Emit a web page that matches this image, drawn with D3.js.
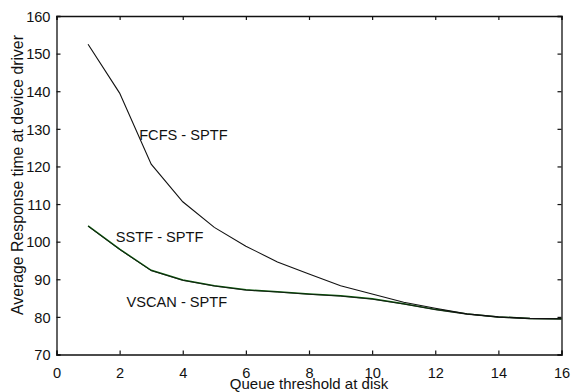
<!DOCTYPE html>
<html>
<head>
<meta charset="utf-8">
<script src="https://cdn.jsdelivr.net/npm/d3@7"></script>
<style>
  html, body { margin: 0; padding: 0; background: #fff; }
  svg { display: block; }
  text { font-family: "Liberation Sans", Arial, Helvetica, sans-serif; fill: #111; }
</style>
</head>
<body>
<div id="chart"></div>
<script>
// Queue threshold at disk (x) and average response time per scheduler pair
const thresholds = [1, 2, 3, 4, 5, 6, 7, 8, 9, 10, 11, 12, 13, 14, 15, 16];
const fcfsSptf  = [152.5, 139.5, 120.6, 110.6, 103.8, 98.8, 94.6, 91.4, 88.3, 86.1, 83.9, 82.3, 80.8, 80.0, 79.6, 79.5];
const sstfSptf  = [104.2, 98.0, 92.4, 89.8, 88.3, 87.2, 86.7, 86.1, 85.6, 84.8, 83.5, 82.0, 80.8, 80.0, 79.6, 79.5];
const vscanSptf = [104.1, 97.9, 92.3, 89.7, 88.2, 87.1, 86.6, 86.0, 85.5, 84.7, 83.4, 81.9, 80.7, 79.9, 79.5, 79.4];

const xTicks = [0, 2, 4, 6, 8, 10, 12, 14, 16];
const yTicks = [70, 80, 90, 100, 110, 120, 130, 140, 150, 160];

const seriesLabels = [
  { text: "FCFS - SPTF",  x: 2.62, y: 127.0 },
  { text: "SSTF - SPTF",  x: 1.88, y: 100.0 },
  { text: "VSCAN - SPTF", x: 2.22, y: 82.7 }
];

const W = 574, H = 392;
const margin = { top: 16, right: 12.5, bottom: 37.5, left: 56.5 };
const iw = W - margin.left - margin.right;
const ih = H - margin.top - margin.bottom;

const svg = d3.select("#chart").append("svg").attr("width", W).attr("height", H);
const g = svg.append("g").attr("transform", `translate(${margin.left},${margin.top})`);

const x = d3.scaleLinear().domain([0, 16]).range([0, iw]);
const y = d3.scaleLinear().domain([70, 160]).range([ih, 0]);

const fs = "14.6px";

// Axes with inward ticks on all four sides
const axB = g.append("g").attr("transform", `translate(0,${ih})`)
  .call(d3.axisBottom(x).tickValues(xTicks).tickSize(-4).tickPadding(13).tickFormat(d3.format("d")));
const axT = g.append("g")
  .call(d3.axisTop(x).tickValues(xTicks).tickSize(-4).tickFormat(""));
const axL = g.append("g")
  .call(d3.axisLeft(y).tickValues(yTicks).tickSize(-4).tickPadding(6).tickFormat(d3.format("d")));
const axR = g.append("g").attr("transform", `translate(${iw},0)`)
  .call(d3.axisRight(y).tickValues(yTicks).tickSize(-4).tickFormat(""));

[axB, axT, axL, axR].forEach(a => {
  a.select(".domain").attr("stroke", "#111").attr("stroke-width", 1.3);
  a.selectAll(".tick line").attr("stroke", "#111").attr("stroke-width", 1.2);
  a.selectAll("text").style("font-size", fs).attr("fill", "#111")
    .style("font-family", "'Liberation Sans', Arial, Helvetica, sans-serif");
});
axL.selectAll("text").attr("dy", "0.36em");

// Series lines
const line = d3.line().x((d, i) => x(thresholds[i])).y(d => y(d));

g.append("path").datum(sstfSptf).attr("d", line)
  .attr("fill", "none").attr("stroke", "#0a5a0a").attr("stroke-width", 1.5);
g.append("path").datum(vscanSptf).attr("d", line)
  .attr("fill", "none").attr("stroke", "#111").attr("stroke-width", 0.8);
g.append("path").datum(fcfsSptf).attr("d", line)
  .attr("fill", "none").attr("stroke", "#111").attr("stroke-width", 1.1);

// In-plot series labels
g.selectAll(".series-label").data(seriesLabels).enter().append("text")
  .attr("class", "series-label")
  .attr("x", d => x(d.x)).attr("y", d => y(d.y))
  .style("font-size", fs)
  .text(d => d.text);

// Axis titles
svg.append("text")
  .attr("x", margin.left + iw / 2).attr("y", 389)
  .attr("text-anchor", "middle").style("font-size", "15px")
  .text("Queue threshold at disk");

svg.append("text")
  .attr("transform", "translate(22.5,175) rotate(-90)")
  .attr("text-anchor", "middle").style("font-size", "15.8px")
  .text("Average Response time at device driver");
</script>
</body>
</html>
